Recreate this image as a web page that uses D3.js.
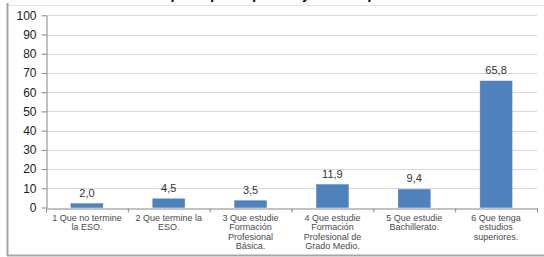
<!DOCTYPE html>
<html>
<head>
  <meta charset="utf-8">
  <script src="https://cdn.jsdelivr.net/npm/d3@7"></script>
  <style>
    body { margin: 0; background: #fff; }
    svg { display: block; font-family: "Liberation Sans", Arial, sans-serif; }
    .axis path, .axis line { stroke: #868686; }
    .axis text { fill: #222; font-size: 12px; }
    .cat { fill: #4a4a4a; font-size: 9px; }
    .val { fill: #333; font-size: 11px; }
  </style>
</head>
<body>
  <script>
    // Datos
    const categorias = [
      ["1 Que no termine", "la ESO."],
      ["2 Que termine la", "ESO."],
      ["3 Que estudie", "Formación", "Profesional", "Básica."],
      ["4 Que estudie", "Formación", "Profesional de", "Grado Medio."],
      ["5 Que estudie", "Bachillerato."],
      ["6 Que tenga", "estudios", "superiores."]
    ];
    const valores = [2.0, 4.5, 3.5, 11.9, 9.4, 65.8];
    const etiquetas = ["2,0", "4,5", "3,5", "11,9", "9,4", "65,8"];
    const yTicks = [0, 10, 20, 30, 40, 50, 60, 70, 80, 90, 100];
    const titulo = "Lo que esperan padres y madres para el futuro";

    const w = 544, h = 257;
    const mLeft = 46, mRight = 537, mTop = 15.3, mBottom = 207.5;

    const svg = d3.select("body").append("svg")
      .attr("width", w)
      .attr("height", h);

    // Marco
    svg.append("line")
      .attr("x1", 7).attr("x2", w).attr("y1", 5.5).attr("y2", 5.5)
      .attr("stroke", "#e6e6e6");
    svg.append("line")
      .attr("x1", 7.5).attr("x2", 7.5).attr("y1", 3).attr("y2", 256)
      .attr("stroke", "#a6a6a6").attr("stroke-width", 2);
    svg.append("line")
      .attr("x1", 7).attr("x2", w).attr("y1", 255.5).attr("y2", 255.5)
      .attr("stroke", "#a6a6a6").attr("stroke-width", 2);

    // Título (cortado arriba, como en la imagen)
    svg.append("text")
      .attr("x", 146).attr("y", -1)
      .attr("text-anchor", "start")
      .attr("font-size", "14px")
      .attr("font-weight", "bold")
      .attr("font-style", "italic")
      .attr("fill", "#000")
      .text(titulo);

    // Escalas
    const x = d3.scaleBand()
      .domain(d3.range(valores.length))
      .range([mLeft, mRight])
      .paddingInner(0.61)
      .paddingOuter(0.305);

    const xb = d3.scaleLinear()
      .domain([0, valores.length])
      .range([mLeft, mRight]);

    const y = d3.scaleLinear()
      .domain([0, 100])
      .range([mBottom, mTop]);

    // Líneas de cuadrícula
    svg.append("g")
      .selectAll("line")
      .data(yTicks.filter(d => d > 0))
      .enter()
      .append("line")
      .attr("x1", mLeft).attr("x2", mRight)
      .attr("y1", d => Math.round(y(d)) + 0.5)
      .attr("y2", d => Math.round(y(d)) + 0.5)
      .attr("stroke", "#d9d9d9");

    // Barras
    svg.selectAll("rect.bar")
      .data(valores)
      .enter()
      .append("rect")
      .attr("class", "bar")
      .attr("x", (d, i) => x(i))
      .attr("y", d => y(d))
      .attr("width", x.bandwidth())
      .attr("height", d => y(0) - y(d))
      .attr("fill", "#4f81bd")
      .attr("stroke", "#4a7ab5")
      .attr("stroke-width", 0.5);

    // Etiquetas de valor
    svg.selectAll("text.val")
      .data(valores)
      .enter()
      .append("text")
      .attr("class", "val")
      .attr("x", (d, i) => x(i) + x.bandwidth() / 2)
      .attr("y", d => y(d) - 7)
      .attr("text-anchor", "middle")
      .text((d, i) => etiquetas[i]);

    // Eje Y
    svg.append("g")
      .attr("class", "axis")
      .attr("transform", "translate(" + (mLeft + 0.5) + ",0)")
      .call(d3.axisLeft(y).tickValues(yTicks).tickSize(5).tickSizeOuter(0).tickPadding(5));

    // Eje X
    svg.append("g")
      .attr("class", "axis")
      .attr("transform", "translate(0," + (Math.round(mBottom) + 0.5) + ")")
      .call(d3.axisBottom(xb).ticks(valores.length).tickFormat("").tickSize(4).tickSizeOuter(0));

    // Etiquetas de categoría
    const cats = svg.selectAll("text.cat")
      .data(categorias)
      .enter()
      .append("text")
      .attr("class", "cat")
      .attr("text-anchor", "middle")
      .attr("x", (d, i) => xb(i + 0.5))
      .attr("y", 221);

    cats.selectAll("tspan")
      .data(d => d)
      .enter()
      .append("tspan")
      .attr("x", function () { return d3.select(this.parentNode).attr("x"); })
      .attr("dy", (d, i) => i === 0 ? 0 : 9.4)
      .text(d => d);
  </script>
</body>
</html>
